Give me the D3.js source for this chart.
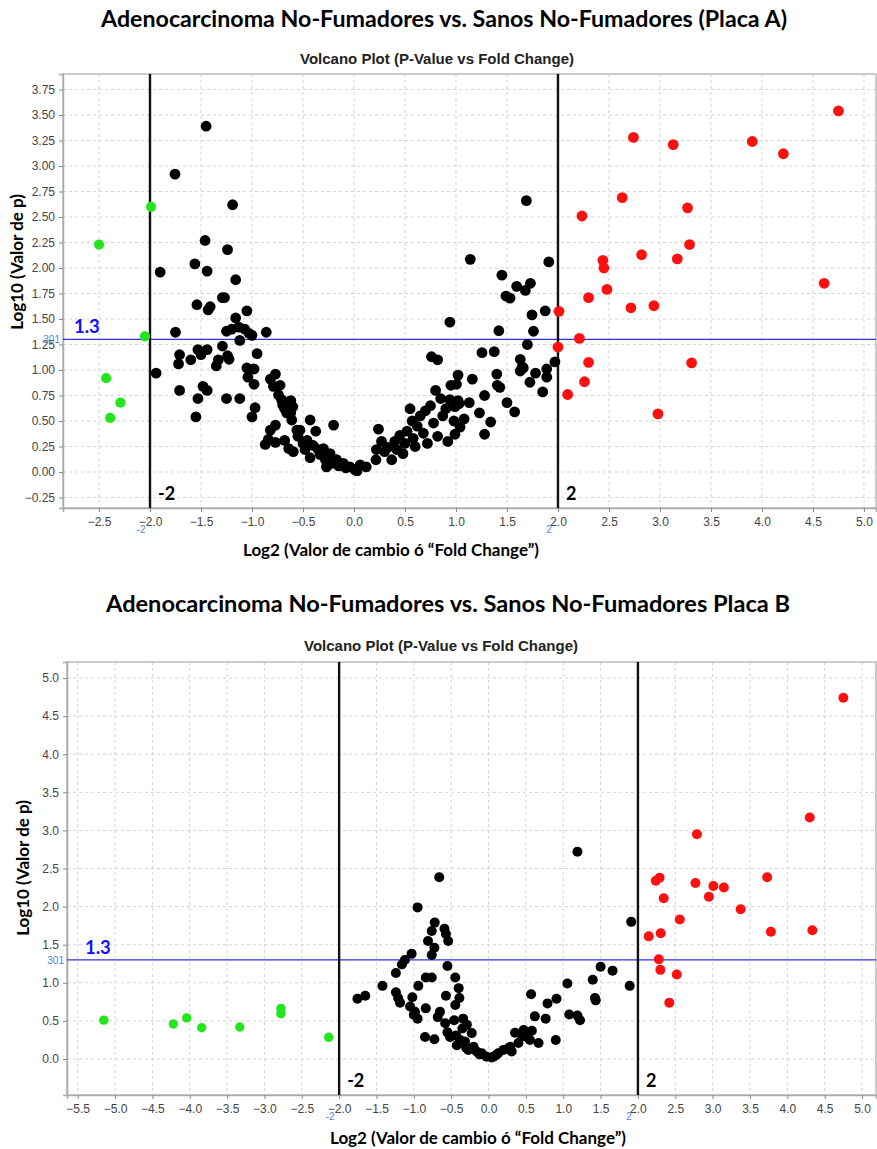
<!DOCTYPE html>
<html>
<head>
<meta charset="utf-8">
<script src="https://cdn.jsdelivr.net/npm/d3@7"></script>
<style>
  body { margin: 0; background: #fff; }
  svg { display: block; }
</style>
</head>
<body>
<svg id="chart" width="877" height="1149"></svg>
<script>
// ---- Placa A ----
var aTitle = "Adenocarcinoma No-Fumadores vs. Sanos No-Fumadores (Placa A)";
var aXTicks = d3.range(-2.5, 5.01, 0.5);
var aYTicks = d3.range(-0.25, 3.76, 0.25);
var aGreen = [[-2.50,2.23],[-1.99,2.60],[-2.05,1.33],[-2.43,0.92],[-2.29,0.68],[-2.39,0.53]];
var aRed = [[4.75,3.54],[2.74,3.28],[3.13,3.21],[3.905,3.24],[4.21,3.12],[2.63,2.69],[2.235,2.51],
  [3.27,2.59],[3.29,2.23],[2.82,2.13],[3.17,2.09],[2.44,2.075],[2.45,2.00],[4.61,1.85],[2.48,1.79],
  [2.30,1.71],[2.715,1.61],[2.94,1.63],[2.01,1.575],[2.21,1.31],[2.00,1.225],[2.30,1.075],[3.31,1.07],
  [2.26,0.885],[2.095,0.76],[2.98,0.57]];
var aBlack = [[-1.45,3.39],[-1.755,2.92],[-1.19,2.62],[-1.46,2.27],[-1.24,2.18],[-1.90,1.96],[-1.56,2.04],
  [-1.44,1.97],[-1.16,1.885],[-1.29,1.71],[-1.27,1.71],[-1.54,1.64],[-1.43,1.59],[-1.41,1.62],[-1.05,1.58],
  [-1.16,1.51],[-1.75,1.37],[-1.25,1.38],[-1.20,1.40],[-1.13,1.42],[-1.07,1.40],[-1.03,1.36],[-1.00,1.34],
  [-0.86,1.37],[-1.12,1.29],[-1.29,1.235],[-1.71,1.15],[-1.72,1.06],[-1.60,1.10],[-1.53,1.20],[-1.50,1.15],
  [-1.44,1.20],[-1.33,1.10],[-1.35,1.04],[-1.225,1.105],[-1.24,1.14],[-0.95,1.16],[-1.94,0.97],[-1.05,1.02],
  [-0.98,1.01],[-1.04,0.93],[-0.98,0.86],[-1.71,0.80],[-1.48,0.84],[-1.44,0.80],[-1.53,0.72],[-1.25,0.72],
  [-1.12,0.72],[-0.97,0.63],[-1.55,0.54],[-1.00,0.54],
  [-0.82,0.91],[-0.77,0.96],[-0.79,0.84],[-0.725,0.85],[-0.74,0.755],[-0.71,0.71],[-0.66,0.68],[-0.63,0.62],
  [-0.68,0.62],[-0.61,0.51],[-0.43,0.51],[-0.56,0.41],[-0.77,0.46],[-0.82,0.41],[-0.87,0.27],[-0.77,0.29],
  [-0.84,0.32],[-0.68,0.31],[-0.64,0.23],[-0.595,0.20],[-0.53,0.41],[-0.46,0.31],[-0.40,0.26],[-0.375,0.40],
  [-0.43,0.14],[-0.30,0.23],[-0.33,0.17],[-0.20,0.46],[-0.235,0.18],[-0.22,0.085],[-0.17,0.12],[-0.105,0.085],
  [-0.04,0.05],[0.06,0.07],[0.12,0.05],[0.22,0.22],[0.24,0.42],[0.215,0.12],[0.01,0.02],
  [-0.70,0.66],[-0.62,0.70],[-0.60,0.64],[-0.66,0.58],[-0.62,0.58],[-0.28,0.12],[-0.15,0.06],[-0.08,0.04],
  [0.03,0.01],[-0.35,0.22],[-0.50,0.28],[-0.55,0.35],[-0.48,0.22],[-0.27,0.05],
  [0.27,0.30],[0.30,0.20],[0.33,0.24],[0.37,0.12],[0.40,0.30],[0.42,0.22],[0.45,0.36],[0.48,0.18],[0.50,0.28],
  [0.52,0.40],[0.55,0.62],[0.57,0.50],[0.58,0.33],[0.60,0.25],[0.62,0.45],[0.65,0.55],[0.68,0.38],[0.70,0.60],
  [0.72,0.28],[0.75,0.65],[0.76,1.13],[0.78,0.48],[0.80,0.80],[0.82,0.35],[0.85,0.72],[0.87,0.55],[0.90,0.62],
  [0.92,0.30],[0.95,0.85],[0.82,1.10],[0.98,0.50],
  [1.69,2.66],[1.14,2.085],[1.91,2.06],[1.45,1.93],[1.595,1.82],[1.73,1.85],[1.68,1.78],[1.49,1.725],
  [1.53,1.705],[1.875,1.58],[1.745,1.54],[0.94,1.47],[1.42,1.385],[1.76,1.38],[1.70,1.25],[1.255,1.17],
  [1.375,1.18],[1.63,1.105],[1.97,1.08],[1.65,1.03],[1.63,0.99],[1.66,1.02],[1.89,1.01],[1.78,0.97],
  [1.40,0.96],[1.02,0.95],[1.16,0.91],[1.89,0.93],[1.725,0.88],[1.85,0.785],[1.405,0.85],[1.43,0.83],
  [1.005,0.86],[1.28,0.75],[1.50,0.68],[1.575,0.59],[1.13,0.68],[0.94,0.71],[1.02,0.70],[0.99,0.64],
  [1.03,0.67],[1.23,0.58],[1.34,0.49],[1.08,0.52],[1.04,0.44],[0.99,0.37],[1.28,0.37]];

// ---- Placa B ----
var bTitle = "Adenocarcinoma No-Fumadores vs. Sanos No-Fumadores Placa B";
var bXTicks = d3.range(-5.5, 5.01, 0.5);
var bYTicks = d3.range(0, 5.01, 0.5);
var bGreen = [[-5.15,0.51],[-4.22,0.46],[-4.04,0.54],[-3.84,0.41],[-3.33,0.42],[-2.78,0.665],[-2.78,0.595],[-2.14,0.285]];
var bRed = [[4.75,4.74],[4.30,3.17],[2.79,2.95],[3.73,2.385],[2.24,2.34],[2.29,2.38],[2.77,2.31],[3.01,2.27],
  [3.15,2.25],[2.345,2.11],[2.95,2.13],[3.375,1.965],[2.56,1.83],[2.145,1.61],[2.305,1.65],[3.78,1.67],
  [4.335,1.69],[2.28,1.31],[2.30,1.17],[2.52,1.11],[2.42,0.74]];
var bBlack = [[1.19,2.72],[-0.66,2.385],[-0.95,1.99],[-0.72,1.79],[-0.59,1.71],[-0.76,1.68],[-0.57,1.64],
  [-0.54,1.55],[-0.81,1.55],[-0.725,1.46],[-0.76,1.365],[-1.03,1.38],[-1.12,1.30],[-1.16,1.24],[-0.55,1.22],
  [-1.24,1.13],[-0.84,1.07],[-0.76,1.07],[-0.445,1.07],[-1.42,0.96],[-0.94,0.96],[-0.40,0.93],[-1.755,0.79],
  [-1.65,0.83],[-1.24,0.875],[-1.21,0.80],[-1.185,0.74],[-1.02,0.81],[-0.57,0.83],[-0.39,0.80],[-1.05,0.69],
  [-0.985,0.62],[-0.95,0.53],[-0.84,0.665],[-1.00,0.58],[-0.445,0.71],[-0.46,0.51],[-0.34,0.53],[-0.58,0.47],
  [-0.29,0.45],[-0.85,0.29],[-0.725,0.26],[-0.515,0.29],[-0.435,0.31],[-0.425,0.18],[-0.225,0.34],[-0.315,0.23],
  [-0.27,0.12],[-0.20,0.16],[-0.16,0.10],[-0.09,0.075],[-0.025,0.03],[0.065,0.03],[0.13,0.075],[0.20,0.12],
  [0.29,0.16],[0.31,0.10],[0.355,0.345],[0.40,0.21],[0.47,0.38],[0.51,0.29],[0.58,0.37],[0.57,0.85],
  [0.555,0.25],[0.67,0.21],[0.62,0.56],[0.765,0.53],[0.79,0.73],[0.91,0.79],[0.90,0.25],[1.055,0.99],
  [1.08,0.585],[1.19,0.57],[1.225,0.51],[1.395,1.04],[1.425,0.80],[1.435,0.77],[1.50,1.21],[1.66,1.16],
  [1.89,0.96],[1.91,1.80],[-0.35,0.40],[-0.38,0.25],[-0.30,0.15],[-0.12,0.06],[0.04,0.02],[0.10,0.05],
  [0.25,0.13],[0.45,0.30],[0.50,0.35],[-0.55,0.35],[-0.68,0.55],[-0.65,0.62]];

var subtitle = "Volcano Plot (P-Value vs Fold Change)";
var yLabel = "Log10 (Valor de p)";
var xLabel = "Log2 (Valor de cambio ó \u201CFold Change\u201D)";
var pThreshold = 1.3;
var fcThreshold = [-2, 2];

var svg = d3.select("#chart");
var boldFont = "Lato, 'Open Sans', sans-serif";
var tickFont = "'Liberation Sans', Arial, sans-serif";

function panel(c) {
  var x = d3.scaleLinear().domain(c.xDomain).range([c.left, c.right]);
  var y = d3.scaleLinear().domain(c.yDomain).range([c.bottom, c.top]);
  var g = svg.append("g");

  // titles
  g.append("text").attr("x", c.titleX).attr("y", c.titleY)
    .attr("text-anchor", "middle").attr("font-family", boldFont).attr("font-weight", "bold")
    .attr("font-size", 22).attr("textLength", c.titleW).attr("lengthAdjust", "spacingAndGlyphs")
    .text(c.title);
  g.append("text").attr("x", c.subX).attr("y", c.subY)
    .attr("text-anchor", "middle").attr("font-family", tickFont).attr("font-weight", "bold")
    .attr("font-size", 14).attr("fill", "#222")
    .attr("textLength", 274).attr("lengthAdjust", "spacingAndGlyphs").text(subtitle);

  // grid
  g.selectAll(".gx").data(c.xTicks).enter().append("line")
    .attr("x1", d => x(d)).attr("x2", d => x(d)).attr("y1", c.top).attr("y2", c.bottom)
    .attr("stroke", "#d4d4d4").attr("stroke-dasharray", "3,3");
  g.selectAll(".gy").data(c.yTicks).enter().append("line")
    .attr("y1", d => y(d)).attr("y2", d => y(d)).attr("x1", c.left).attr("x2", c.right)
    .attr("stroke", "#d4d4d4").attr("stroke-dasharray", "3,3");

  // frame
  g.append("rect").attr("x", c.left).attr("y", c.top)
    .attr("width", c.right - c.left).attr("height", c.bottom - c.top)
    .attr("fill", "none").attr("stroke", "#bbb").attr("stroke-width", 1.5);

  // axes
  var xa = g.append("g").attr("transform", "translate(0," + c.bottom + ")")
    .call(d3.axisBottom(x).tickValues(c.xTicks).tickFormat(d3.format(".1f")).tickSize(4).tickPadding(5));
  var ya = g.append("g").attr("transform", "translate(" + c.left + ",0)")
    .call(d3.axisLeft(y).tickValues(c.yTicks).tickFormat(d3.format(c.yFmt)).tickSize(4).tickPadding(4));
  [xa, ya].forEach(function (a) {
    a.select(".domain").attr("stroke", "#aaa").attr("stroke-width", 1.5);
    a.selectAll(".tick line").attr("stroke", "#888");
    a.selectAll(".tick text").attr("fill", "#444").attr("font-size", 12).attr("font-family", tickFont);
  });

  // threshold lines
  g.append("line").attr("x1", c.left).attr("x2", c.right)
    .attr("y1", y(pThreshold)).attr("y2", y(pThreshold))
    .attr("stroke", "#3333dd").attr("stroke-width", 1.3);
  g.selectAll(".vl").data(fcThreshold).enter().append("line")
    .attr("x1", d => x(d)).attr("x2", d => x(d)).attr("y1", c.top).attr("y2", c.bottom)
    .attr("stroke", "#111").attr("stroke-width", 2.4);

  // points
  function dots(data, color, r) {
    g.append("g").selectAll("circle").data(data).enter().append("circle")
      .attr("cx", d => x(d[0])).attr("cy", d => y(d[1])).attr("r", r).attr("fill", color);
  }
  dots(c.black, "#000", c.r);
  dots(c.green, "#22e51c", c.r - 0.3);
  dots(c.red, "#ff1010", c.r);

  // annotations
  g.append("text").attr("x", x(c.xDomain[0]) + c.lblOff).attr("y", y(pThreshold) - 6)
    .attr("font-family", boldFont).attr("font-weight", "bold").attr("font-size", 18.5)
    .attr("fill", "#1010ff").text("1.3");
  g.append("text").attr("x", c.left - 3).attr("y", y(pThreshold) + 4)
    .attr("text-anchor", "end").attr("font-family", tickFont).attr("font-size", 10)
    .attr("fill", "#4a86e8").text("301");
  fcThreshold.forEach(function (v) {
    g.append("text").attr("x", x(v) + 8).attr("y", c.bottom - 8)
      .attr("font-family", boldFont).attr("font-weight", "bold").attr("font-size", 18)
      .attr("fill", "#000").text(v);
    g.append("text").attr("x", x(v) - 9).attr("y", c.bottom + 25)
      .attr("text-anchor", "middle").attr("font-family", tickFont).attr("font-size", 10)
      .attr("fill", "#4a86e8").text(v);
  });

  // axis labels
  g.append("text").attr("transform", "translate(" + c.yLabX + "," + c.yLabY + ") rotate(-90)")
    .attr("text-anchor", "middle").attr("font-family", boldFont).attr("font-weight", "bold")
    .attr("font-size", 17).text(yLabel);
  g.append("text").attr("x", c.xLabX).attr("y", c.xLabY)
    .attr("text-anchor", "middle").attr("font-family", boldFont).attr("font-weight", "bold")
    .attr("font-size", 17).text(xLabel);
}

panel({
  title: aTitle, titleX: 444, titleY: 27, titleW: 686, subX: 437, subY: 64,
  left: 63, right: 876, top: 74, bottom: 508,
  xDomain: [-2.853, 5.118], yDomain: [-0.353, 3.902],
  xTicks: aXTicks, yTicks: aYTicks, yFmt: ".2f",
  black: aBlack, green: aGreen, red: aRed, r: 5.4, lblOff: 11,
  yLabX: 23, yLabY: 262, xLabX: 391, xLabY: 556
});
panel({
  title: bTitle, titleX: 448, titleY: 612, titleW: 684, subX: 441, subY: 651,
  left: 67, right: 876, top: 662, bottom: 1095,
  xDomain: [-5.643, 5.187], yDomain: [-0.472, 5.21],
  xTicks: bXTicks, yTicks: bYTicks, yFmt: ".1f",
  black: bBlack, green: bGreen, red: bRed, r: 5, lblOff: 18,
  yLabX: 29, yLabY: 868, xLabX: 478, xLabY: 1144
});
</script>
</body>
</html>
